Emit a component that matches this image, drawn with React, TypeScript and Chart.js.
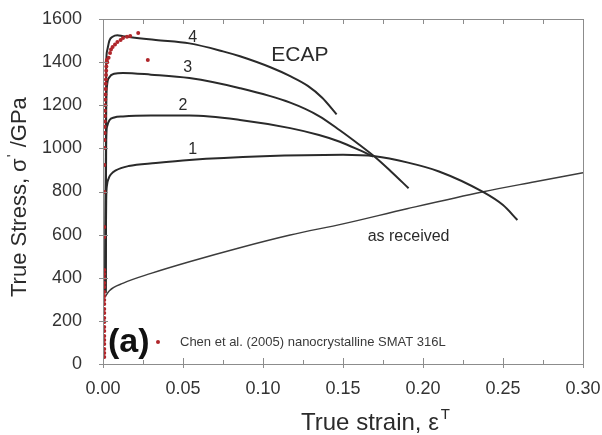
import { useEffect, useRef } from "react";
import { Chart, registerables } from "chart.js";

Chart.register(...registerables);

const FONT = '"Liberation Sans", Arial, Helvetica, sans-serif';

// ECAP, 1 pass
const pass1Strain = [0.0015, 0.002, 0.0025, 0.0035, 0.005, 0.008, 0.016, 0.033, 0.054, 0.1, 0.15, 0.17, 0.19, 0.21, 0.2375, 0.25, 0.259];
const pass1Stress = [330, 760, 830, 860, 880, 898, 918, 932, 946, 963, 970, 963, 935, 893, 798, 737, 668];

// ECAP, 2 passes
const pass2Strain = [0.0015, 0.002, 0.0025, 0.004, 0.007, 0.0125, 0.03, 0.054, 0.0856, 0.117, 0.135, 0.148, 0.16, 0.169];
const pass2Stress = [330, 1040, 1100, 1130, 1143, 1148, 1152, 1152, 1132, 1094, 1062, 1031, 993, 962];

// ECAP, 3 passes
const pass3Strain = [0.0015, 0.002, 0.0025, 0.004, 0.007, 0.0125, 0.03, 0.054, 0.0856, 0.117, 0.135, 0.148, 0.16, 0.17, 0.18, 0.191];
const pass3Stress = [330, 1180, 1290, 1330, 1346, 1350, 1342, 1326, 1279, 1212, 1150, 1084, 1018, 960, 893, 815];

// ECAP, 4 passes
const pass4Strain = [0.0015, 0.002, 0.0025, 0.004, 0.006, 0.009, 0.0125, 0.033, 0.054, 0.075, 0.0856, 0.105, 0.117, 0.128, 0.137, 0.146];
const pass4Stress = [330, 1380, 1450, 1500, 1518, 1525, 1520, 1503, 1487, 1450, 1427, 1375, 1335, 1290, 1235, 1158];

// As-received material
const receivedStrain = [0.0012, 0.004, 0.0127, 0.03, 0.054, 0.085, 0.117, 0.15, 0.19, 0.2377, 0.27, 0.3];
const receivedStress = [310, 340, 375, 420, 474, 538, 598, 650, 720, 799, 845, 887];

// Chen et al. (2005), nanocrystalline SMAT 316L
const chenStrain = [
  0.0008, 0.0008, 0.0008, 0.0008, 0.0008, 0.0008, 0.0008, 0.0008, 0.0008, 0.0008, 0.0008,
  0.0008, 0.0008, 0.0008, 0.0008, 0.0008, 0.0008, 0.0008, 0.0008, 0.0008, 0.0008, 0.0008,
  0.0008, 0.0008, 0.0008, 0.0009, 0.0009, 0.001, 0.001, 0.0011, 0.0012, 0.0012, 0.0013,
  0.0014, 0.0015, 0.0016, 0.0017, 0.0018, 0.0019, 0.002, 0.0021, 0.0022, 0.0024, 0.0026,
  0.0035, 0.0044, 0.005, 0.006, 0.0075, 0.009, 0.011, 0.0125, 0.015, 0.017, 0.022, 0.028,
];
const chenStress = [
  32, 51, 70, 93, 111, 130, 153, 172, 195, 213, 237,
  255, 278, 297, 315, 334, 357, 376, 399, 417, 436, 589,
  635, 798, 923, 1002, 1039, 1071, 1100, 1125, 1150, 1175, 1200,
  1225, 1250, 1275, 1300, 1320, 1340, 1360, 1380, 1400, 1410, 1400,
  1420, 1442, 1458, 1470, 1482, 1493, 1503, 1512, 1518, 1521, 1535, 1410,
];

// Axis ranges and ticks
const strainMax = 0.3;
const strainMajorStep = 0.05;
const strainMinorStep = 0.025;
const stressMax = 1600;
const stressStep = 200;

// Curve annotations
const passLabels = ["1", "2", "3", "4"];
const passLabelStrain = [0.056, 0.05, 0.053, 0.056];
const passLabelStress = [993, 1197, 1373, 1512];

const toPoints = (xs: number[], ys: number[]) => xs.map((x, i) => ({ x, y: ys[i] }));

const curveStyle = (color: string, width: number) => ({
  showLine: true,
  borderColor: color,
  borderWidth: width,
  pointRadius: 0,
  fill: false,
  cubicInterpolationMode: "monotone" as const,
});

const decorations = {
  id: "decorations",
  afterDatasetsDraw(chart: any) {
    const { ctx, chartArea: a, scales } = chart;
    const xs = scales.x;
    const ys = scales.y;
    ctx.save();

    // frame
    ctx.strokeStyle = "#8c8c8c";
    ctx.lineWidth = 1;
    ctx.strokeRect(Math.round(a.left) + 0.5, Math.round(a.top) + 0.5, Math.round(a.right - a.left), Math.round(a.bottom - a.top));

    // strain ticks, bottom and top, pointing inward
    const nx = Math.round(strainMax / strainMinorStep);
    ctx.beginPath();
    for (let i = 0; i <= nx; i++) {
      const v = i * strainMinorStep;
      const px = Math.round(xs.getPixelForValue(v)) + 0.5;
      const major = Math.abs(v / strainMajorStep - Math.round(v / strainMajorStep)) < 1e-6;
      ctx.moveTo(px, a.bottom + (major ? 4 : 0));
      ctx.lineTo(px, a.bottom - (major ? 6 : 4));
      ctx.moveTo(px, a.top);
      ctx.lineTo(px, a.top + 5);
    }
    // stress ticks
    for (let v = 0; v <= stressMax; v += stressStep) {
      const py = Math.round(ys.getPixelForValue(v)) + 0.5;
      ctx.moveTo(a.left - 4, py);
      ctx.lineTo(a.left + 5, py);
    }
    ctx.stroke();

    ctx.fillStyle = "#2b2b2b";
    ctx.textBaseline = "alphabetic";

    // x axis title with superscript
    ctx.textAlign = "left";
    ctx.font = `24px ${FONT}`;
    const xTitle = "True strain, ε";
    const xtx = 301;
    const xty = 430;
    ctx.fillText(xTitle, xtx, xty);
    const xw = ctx.measureText(xTitle).width;
    ctx.font = `15px ${FONT}`;
    ctx.fillText("T", xtx + xw + 2, xty - 11);

    // y axis title, rotated
    ctx.save();
    ctx.translate(26, 297);
    ctx.rotate(-Math.PI / 2);
    ctx.font = `22px ${FONT}`;
    const y1 = "True Stress, σ";
    ctx.fillText(y1, 0, 0);
    let off = ctx.measureText(y1).width;
    ctx.font = `15px ${FONT}`;
    ctx.fillText("'", off + 1, -9);
    off += ctx.measureText("'").width + 2;
    ctx.font = `22px ${FONT}`;
    ctx.fillText(" /GPa", off, 0);
    ctx.restore();

    // pass numbers
    ctx.textAlign = "center";
    ctx.textBaseline = "middle";
    ctx.font = `16px ${FONT}`;
    passLabels.forEach((t, i) => {
      ctx.fillText(t, xs.getPixelForValue(passLabelStrain[i]), ys.getPixelForValue(passLabelStress[i]));
    });

    ctx.font = `21px ${FONT}`;
    ctx.fillText("ECAP", xs.getPixelForValue(0.123), ys.getPixelForValue(1433));

    ctx.font = `16px ${FONT}`;
    ctx.fillText("as received", xs.getPixelForValue(0.191), ys.getPixelForValue(589));

    // panel letter
    ctx.textAlign = "left";
    ctx.textBaseline = "alphabetic";
    ctx.fillStyle = "#111";
    ctx.font = `bold 34px ${FONT}`;
    ctx.fillText("(a)", a.left + 5, a.bottom - 12);

    // legend entry for the Chen data
    const ly = a.bottom - 22;
    ctx.fillStyle = "#b0262b";
    ctx.beginPath();
    ctx.arc(a.left + 55, ly, 2, 0, Math.PI * 2);
    ctx.fill();
    ctx.fillStyle = "#3a3a3a";
    ctx.textBaseline = "middle";
    ctx.font = `13px ${FONT}`;
    ctx.fillText("Chen et al. (2005) nanocrystalline SMAT 316L", a.left + 77, ly);

    ctx.restore();
  },
};

export default function App() {
  const canvasRef = useRef<HTMLCanvasElement | null>(null);

  useEffect(() => {
    document.body.style.margin = "0";
    const canvas = canvasRef.current;
    if (!canvas) return;

    const chart = new Chart(canvas, {
      type: "scatter",
      data: {
        datasets: [
          {
            label: "Chen et al. (2005) nanocrystalline SMAT 316L",
            data: toPoints(chenStrain, chenStress),
            showLine: false,
            pointRadius: 2,
            pointBorderWidth: 0,
            pointBackgroundColor: "#b0262b",
            pointBorderColor: "#b0262b",
          },
          { label: "4", data: toPoints(pass4Strain, pass4Stress), ...curveStyle("#2a2a2a", 2) },
          { label: "3", data: toPoints(pass3Strain, pass3Stress), ...curveStyle("#2a2a2a", 2) },
          { label: "2", data: toPoints(pass2Strain, pass2Stress), ...curveStyle("#2a2a2a", 2) },
          { label: "1", data: toPoints(pass1Strain, pass1Stress), ...curveStyle("#2a2a2a", 2) },
          { label: "as received", data: toPoints(receivedStrain, receivedStress), ...curveStyle("#3c3c3c", 1.4) },
        ],
      },
      options: {
        responsive: false,
        animation: false,
        layout: { padding: { top: 19, right: 19, left: 0, bottom: 0 } },
        plugins: {
          legend: { display: false },
          tooltip: { enabled: false },
          title: { display: false },
        },
        scales: {
          x: {
            type: "linear",
            min: 0,
            max: strainMax,
            grid: { display: false },
            border: { display: true, color: "#8c8c8c" },
            ticks: {
              stepSize: strainMajorStep,
              autoSkip: false,
              maxRotation: 0,
              padding: 6,
              color: "#333",
              font: { family: FONT, size: 18 },
              callback: (v: any) => Number(v).toFixed(2),
            },
            afterFit: (s: any) => {
              s.height = 71;
              s.paddingLeft = 0;
              s.paddingRight = 0;
            },
          },
          y: {
            type: "linear",
            min: 0,
            max: stressMax,
            grid: { display: false },
            border: { display: true, color: "#8c8c8c" },
            ticks: {
              stepSize: stressStep,
              padding: 13,
              color: "#333",
              font: { family: FONT, size: 18 },
              callback: (v: any) => String(Math.round(Number(v))),
            },
            afterFit: (s: any) => {
              s.width = 103;
              s.paddingTop = 0;
              s.paddingBottom = 0;
            },
          },
        },
      },
      plugins: [decorations],
    });

    return () => chart.destroy();
  }, []);

  return (
    <div style={{ width: 602, height: 435 }}>
      <canvas ref={canvasRef} width={602} height={435} />
    </div>
  );
}
